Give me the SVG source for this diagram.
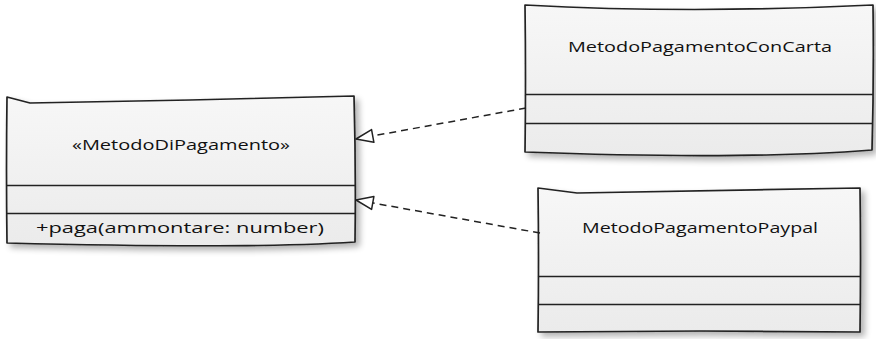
<svg xmlns="http://www.w3.org/2000/svg" width="876" height="339" viewBox="0 0 876 339">
  <defs>
    <linearGradient id="boxFill" x1="0" y1="0" x2="0" y2="1">
      <stop offset="0" stop-color="#f7f7f7"/>
      <stop offset="1" stop-color="#ebebeb"/>
    </linearGradient>
    <filter id="shadow" x="-10%" y="-10%" width="125%" height="130%">
      <feGaussianBlur in="SourceAlpha" stdDeviation="3"/>
      <feOffset dx="4" dy="4" result="b"/>
      <feComponentTransfer><feFuncA type="linear" slope="0.3"/></feComponentTransfer>
      <feMerge><feMergeNode/><feMergeNode in="SourceGraphic"/></feMerge>
    </filter>
    <!-- hollow triangle for realization, tip at the path end -->
    <marker id="hollowTri" viewBox="0 0 20 16" refX="19" refY="8" markerWidth="20" markerHeight="16" markerUnits="userSpaceOnUse" orient="auto">
      <path d="M19,8 L2,1.5 L2,14.5 Z" fill="#ffffff" stroke="#222" stroke-width="1.5" stroke-linejoin="round"/>
    </marker>
  </defs>
  <style>
    .box { fill: url(#boxFill); stroke: #222; stroke-width: 1.7; stroke-linejoin: round; filter: url(#shadow); }
    .div { stroke: #222; stroke-width: 1.4; fill: none; }
    .lbl { font-family: "Open Sans", "Liberation Sans", sans-serif; font-size: 15px; fill: #111; }
    .conn { stroke: #222; stroke-width: 1.5; stroke-dasharray: 7 5; fill: none; }
  </style>

  <rect width="876" height="339" fill="#ffffff"/>

  <!-- interface: MetodoDiPagamento -->
  <g id="MetodoDiPagamento">
    <path class="box" d="M7,97 L30,103 L190,100 L354,96 Q356,170 355,242 Q250,249 7,243 Q6,170 7,97 Z"/>
    <line class="div" x1="7" y1="185.5" x2="355" y2="185.5"/>
    <line class="div" x1="7" y1="213.5" x2="355" y2="213.5"/>
    <text class="lbl" x="181" y="150" text-anchor="middle" textLength="218" lengthAdjust="spacingAndGlyphs">«MetodoDiPagamento»</text>
    <text class="lbl" x="36" y="233" textLength="288" lengthAdjust="spacingAndGlyphs">+paga(ammontare: number)</text>
  </g>

  <!-- class: MetodoPagamentoConCarta -->
  <g id="MetodoPagamentoConCarta">
    <path class="box" d="M525,5 Q690,14 873,5 Q874,80 872,150 Q743,160 525,152 Q526,80 525,5 Z"/>
    <line class="div" x1="525" y1="94.5" x2="873" y2="94.5"/>
    <line class="div" x1="525" y1="123.5" x2="873" y2="123.5"/>
    <text class="lbl" x="700" y="52" text-anchor="middle" textLength="264" lengthAdjust="spacingAndGlyphs">MetodoPagamentoConCarta</text>
  </g>

  <!-- class: MetodoPagamentoPaypal -->
  <g id="MetodoPagamentoPaypal">
    <path class="box" d="M538,188 L577,193 L860,188 Q861,260 860,332 L700,331 L538,332 Q539,260 538,188 Z"/>
    <line class="div" x1="538" y1="276.5" x2="860" y2="276.5"/>
    <line class="div" x1="538" y1="304.5" x2="860" y2="304.5"/>
    <text class="lbl" x="700" y="233" text-anchor="middle" textLength="236" lengthAdjust="spacingAndGlyphs">MetodoPagamentoPaypal</text>
  </g>

  <!-- realization connectors -->
  <g id="connectors">
    <path class="conn" d="M526,108 L356,139" marker-end="url(#hollowTri)"/>
    <path class="conn" d="M540,233 L356,200" marker-end="url(#hollowTri)"/>
  </g>
</svg>
